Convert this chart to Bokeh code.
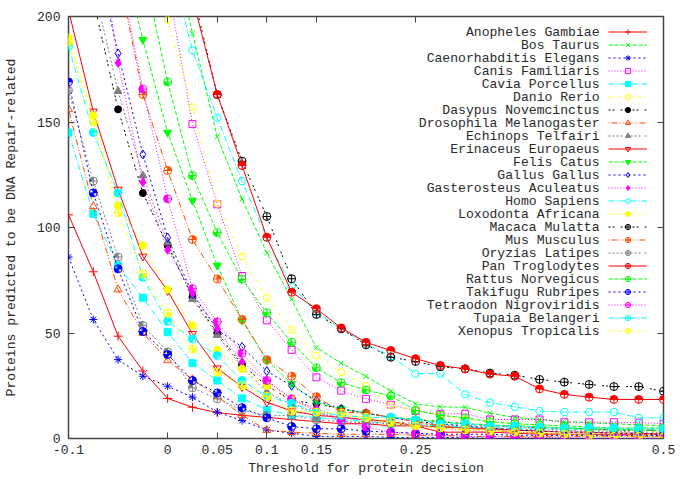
import math
from bokeh.plotting import figure
from bokeh.models import Range1d, FixedTicker, LinearAxis, Legend, LegendItem, Label
from bokeh.embed import file_html
from bokeh.resources import INLINE

# ---------------- data ----------------
thresholds = [-0.1, -0.075, -0.05, -0.025, 0.0, 0.025, 0.05, 0.075, 0.1, 0.125,
              0.15, 0.175, 0.2, 0.225, 0.25, 0.275, 0.3, 0.325, 0.35, 0.375,
              0.4, 0.425, 0.45, 0.475, 0.5]
x_tick_values = [-0.1, 0, 0.05, 0.1, 0.15, 0.25, 0.5]
x_tick_labels = ["-0.1", "0", "0.05", "0.1", "0.15", "0.25", "0.5"]
y_tick_values = [0, 50, 100, 150, 200]
y_tick_labels = ["0", "50", "100", "150", "200"]

species = ["Anopheles Gambiae", "Bos Taurus", "Caenorhabditis Elegans", "Canis Familiaris",
           "Cavia Porcellus", "Danio Rerio", "Dasypus Novemcinctus", "Drosophila Melanogaster",
           "Echinops Telfairi", "Erinaceus Europaeus", "Felis Catus", "Gallus Gallus",
           "Gasterosteus Aculeatus", "Homo Sapiens", "Loxodonta Africana", "Macaca Mulatta",
           "Mus Musculus", "Oryzias Latipes", "Pan Troglodytes", "Rattus Norvegicus",
           "Takifugu Rubripes", "Tetraodon Nigroviridis", "Tupaia Belangeri", "Xenopus Tropicalis"]

anopheles_gambiae = [106, 79, 48.5, 32, 19, 14.8, 12.3, 11, 10, 9, 8, 7, 7, 6, 6, 3, 3, 3, 2.5, 2, 2, 2, 2, 2, 2]
bos_taurus = [420, 370, 320, 280, 245, 192, 143, 113.5, 88, 66, 43, 35.7, 29.4, 22.5, 16.4, 15, 14.8, 12, 10, 9, 8, 7.5, 7, 6.5, 6]
caenorhabditis_elegans = [86, 56.4, 37.4, 29.5, 24.8, 19.6, 12.5, 8.5, 4, 2.5, 1, 1, 1, 0.5, 0.5, 0.5, 0.5, 0, 0, 0, 0, 0, 0, 0, 0]
canis_familiaris = [400, 330, 290, 260, 215, 149, 111, 77, 56, 42, 29, 22.7, 18.8, 16, 13, 11.7, 11.7, 9, 9, 9, 7.7, 7.7, 7.7, 7.5, 7]
cavia_porcellus = [145, 106.5, 82, 66.7, 50.4, 35.7, 27.5, 19, 13.6, 11, 10, 9, 8, 7, 6.5, 6, 5.5, 5, 5, 4.5, 4.5, 4, 4, 4, 4]
danio_rerio = [500, 420, 340, 260, 198.4, 157, 111.3, 86.3, 66.7, 51.5, 39.3, 31.4, 25, 15.6, 13.3, 11, 9, 8, 7, 6, 5, 4, 4, 3.5, 3]
dasypus_novemcinctus = [280, 208, 156, 116.3, 91.5, 67, 50, 35, 25, 18, 16.5, 14, 12, 10, 9, 8, 7, 6, 6, 5, 5, 4.5, 4, 4, 4]
drosophila_melanogaster = [156, 110, 70.6, 50, 37, 28, 20, 11, 4, 3, 2.5, 2, 2, 2, 1.5, 1.5, 1, 1, 1, 1, 1, 1, 1, 1, 1]
echinops_telfairi = [290, 215, 164.6, 124.6, 93, 66, 49, 33.8, 22, 16, 12, 10, 9, 8, 7, 6.5, 6, 6, 5.5, 5, 5, 4.5, 4, 4, 3.5]
erinaceus_europaeus = [203, 155, 118, 86.3, 70, 49.6, 33.3, 24.5, 17.2, 13, 11, 10, 9, 8, 6, 5.5, 5, 4.5, 4, 3.5, 3, 3, 2.5, 2.5, 2]
felis_catus = [420, 330, 237, 189, 145, 112.8, 82, 56, 37, 26, 17, 14, 12, 10, 9, 8, 7, 6.5, 6, 5.5, 5, 4.5, 4.5, 4, 4]
gallus_gallus = [320, 235, 182.5, 134.6, 95.2, 68.5, 51.6, 43.4, 31.9, 25, 18, 14, 12, 10, 8, 7, 6, 5, 4, 3.5, 3, 3, 2.5, 2.5, 2]
gasterosteus_aculeatus = [350, 260, 178, 121.5, 89.4, 69, 52, 36.2, 27.2, 18.8, 14, 10, 8.5, 7, 6, 5, 4, 3, 3, 2.5, 2, 2, 1.5, 1.5, 1]
homo_sapiens = [500, 420, 350, 290, 230, 184, 152, 122, 95, 72, 60, 52, 45, 39, 30.7, 30.7, 20.9, 17, 15, 13, 12.5, 12.5, 12.5, 9.8, 9.8]
loxodonta_africana = [190, 153, 110.4, 91.5, 70.6, 53.6, 42, 33, 25, 19, 13, 11, 9, 7, 6, 5, 4.5, 4, 3.5, 3, 3, 2.5, 2.5, 2, 2]
macaca_mulatta = [600, 500, 420, 340, 280, 212, 163, 131.4, 105.2, 75.7, 58.8, 52, 44.4, 38.5, 36.5, 34, 33, 31, 30, 28, 26.7, 25.6, 24.6, 24.6, 22.4]
mus_musculus = [380, 300, 222, 163, 127, 94.3, 75.6, 56.4, 37.3, 29.5, 19.8, 12.5, 12, 10, 8, 6, 5, 4, 3, 2.5, 2, 1.5, 1.5, 1, 1]
oryzias_latipes = [165, 122, 86, 53.6, 41, 24, 18.8, 13.4, 11, 10.9, 8.8, 8, 7.5, 7, 6, 5.5, 5, 5, 4.5, 4, 4, 3.5, 3.5, 3, 3]
pan_troglodytes = [600, 500, 400, 320, 260, 209, 163, 129.4, 95.4, 69.3, 61.5, 52.4, 45.6, 41.7, 37.8, 34.6, 33, 30.5, 29.5, 23.5, 20.9, 19.6, 18.5, 18.5, 18.5]
rattus_norvegicus = [400, 330, 270, 224, 169, 124.6, 97.6, 75.5, 59.6, 45.6, 33.5, 26.5, 23, 20.2, 13.3, 11, 9.8, 8, 7, 6.5, 6, 5.5, 5, 5, 5]
takifugu_rubripes = [169, 116.4, 80.4, 50.7, 39.8, 27.5, 21.6, 14.6, 9.8, 5.7, 4.6, 4.6, 3.5, 3, 2.5, 2, 2, 2, 1.5, 1.5, 1.5, 1.5, 1.5, 1.5, 1.5]
tetraodon_nigroviridis = [380, 300, 225, 165.6, 113.6, 71, 55.3, 40.4, 27.5, 18.8, 13, 8.5, 5.4, 3, 2.2, 1.5, 1, 1, 0.5, 0.5, 0.5, 0, 0, 0, 0]
tupaia_belangeri = [186, 145, 116.4, 76.4, 55.5, 47.2, 39.3, 27.5, 19.9, 16.7, 12.5, 11, 10, 10.1, 8.8, 7, 7, 6, 6, 5.5, 5, 5, 5, 4.6, 4.6]
xenopus_tropicalis = [188, 150, 107, 78, 59.4, 42.5, 31.4, 25, 20, 13, 12.5, 12, 10, 8, 6, 5, 4, 3.5, 3, 2.5, 2, 1.5, 1, 1, 0.6]

series_values = [anopheles_gambiae, bos_taurus, caenorhabditis_elegans, canis_familiaris,
                 cavia_porcellus, danio_rerio, dasypus_novemcinctus, drosophila_melanogaster,
                 echinops_telfairi, erinaceus_europaeus, felis_catus, gallus_gallus,
                 gasterosteus_aculeatus, homo_sapiens, loxodonta_africana, macaca_mulatta,
                 mus_musculus, oryzias_latipes, pan_troglodytes, rattus_norvegicus,
                 takifugu_rubripes, tetraodon_nigroviridis, tupaia_belangeri, xenopus_tropicalis]

# ---------------- styles (gnuplot postscript line types) ----------------
palette = ["#ff0000", "#00ff00", "#0000ff", "#ff00ff", "#00ffff",
           "#ffff00", "#000000", "#ff4d00", "#808080"]
dashes = ["solid", "4 2", "2 3", "1 2", "6 2 1 2", "3 3 1 3", "2 2 2 6",
          "1 2 6 2 1 2", "2 2 2 2 2 2 2 4"]
# (marker, filled, size)
point_types = [("cross", False, 9), ("x", False, 7), ("asterisk", False, 8),
               ("square", False, 7), ("square", True, 7), ("circle", False, 7),
               ("circle", True, 7), ("triangle", False, 8), ("triangle", True, 8),
               ("inverted_triangle", False, 8), ("inverted_triangle", True, 8),
               ("diamond", False, 9), ("diamond", True, 9), ("hex", False, 8),
               ("hex", True, 8)]
# gnuplot circle symbols C0..C8 : filled quadrants (bits -> 0-90, 90-180, 180-270, 270-360)
quadrants = [(0, 90), (90, 180), (180, 270), (270, 360)]

FONT = "Liberation Mono"
FSIZE = "13.1px"
TXT = "#2a2a2a"

p = figure(width=685, height=479, output_backend="svg", toolbar_location=None,
           x_range=Range1d(-0.1, 0.5), y_range=Range1d(0, 200),
           min_border_left=68, min_border_right=22, min_border_top=16, min_border_bottom=41)
p.background_fill_color = "white"
p.border_fill_color = "white"
p.xgrid.visible = False
p.ygrid.visible = False
p.outline_line_color = "#444444"
p.outline_line_width = 1.5


def style_axis(ax, ticks, labels, show_labels):
    ax.ticker = FixedTicker(ticks=ticks)
    ax.axis_line_color = None
    ax.major_tick_in = 6
    ax.major_tick_out = 0
    ax.major_tick_line_color = "#444444"
    ax.minor_tick_line_color = None
    if show_labels:
        ax.major_label_overrides = {t: l for t, l in zip(ticks, labels)}
        ax.major_label_text_font = FONT
        ax.major_label_text_font_size = FSIZE
        ax.major_label_text_color = TXT
    else:
        ax.major_label_overrides = {t: "" for t in ticks}
        ax.major_label_text_font_size = "1px"
        ax.major_label_standoff = 0


xa = p.xaxis[0]
style_axis(xa, x_tick_values, x_tick_labels, True)
xa.major_label_standoff = 6
xa.axis_label = "Threshold for protein decision"
xa.axis_label_text_font = FONT
xa.axis_label_text_font_size = FSIZE
xa.axis_label_text_font_style = "normal"
xa.axis_label_text_color = TXT
xa.axis_label_standoff = 4

ya = p.yaxis[0]
style_axis(ya, y_tick_values, y_tick_labels, True)
ya.major_label_standoff = 8
ya.axis_label = "Proteins predicted to be DNA Repair-related"
ya.axis_label_text_font = FONT
ya.axis_label_text_font_size = FSIZE
ya.axis_label_text_font_style = "normal"
ya.axis_label_text_color = TXT
ya.axis_label_standoff = 15

top_axis = LinearAxis()
style_axis(top_axis, x_tick_values, x_tick_labels, False)
p.add_layout(top_axis, "above")
right_axis = LinearAxis()
style_axis(right_axis, y_tick_values, y_tick_labels, False)
p.add_layout(right_axis, "right")

items = []
for i, (name, vals) in enumerate(zip(species, series_values)):
    color = palette[i % 9]
    dash = dashes[i % 9]
    lr = p.line(thresholds, vals, line_color=color, line_dash=dash, line_width=1)
    if i < len(point_types):
        marker, filled, size = point_types[i]
        sr = p.scatter(thresholds, vals, marker=marker, size=size, line_color=color,
                       line_width=1, fill_color=color if filled else None)
    else:
        n = i - len(point_types)  # 0..8 -> C0..C8
        for b, (a0, a1) in enumerate(quadrants):
            if n & (1 << b):
                p.wedge(thresholds, vals, radius=4, radius_units="screen",
                        start_angle=math.radians(a0), end_angle=math.radians(a1),
                        fill_color=color, line_color=None)
        sr = p.scatter(thresholds, vals, marker="circle_cross", size=8, line_color=color,
                       line_width=1, fill_color=None)
    items.append(LegendItem(label="", renderers=[lr, sr]))

# legend: gnuplot style, right-aligned text with the sample to its right
ROW = 13
FRAME_H = 422
legend_top = 9.4      # px below the frame top for the first row
legend = Legend(items=items, location=(540, FRAME_H - legend_top - ROW * len(species)),
                glyph_width=39, glyph_height=ROW, label_width=0, label_height=ROW,
                label_standoff=0, padding=0, spacing=0, margin=0,
                border_line_color=None, background_fill_alpha=0,
                label_text_font_size="1px")
p.add_layout(legend)

for k, name in enumerate(species):
    p.add_layout(Label(x=531, y=FRAME_H - legend_top - ROW * k - ROW / 2,
                       x_units="screen", y_units="screen", text=name,
                       text_align="right", text_baseline="middle",
                       text_font=FONT, text_font_size=FSIZE, text_color=TXT))

open("out.html", "w").write(file_html(p, INLINE))
